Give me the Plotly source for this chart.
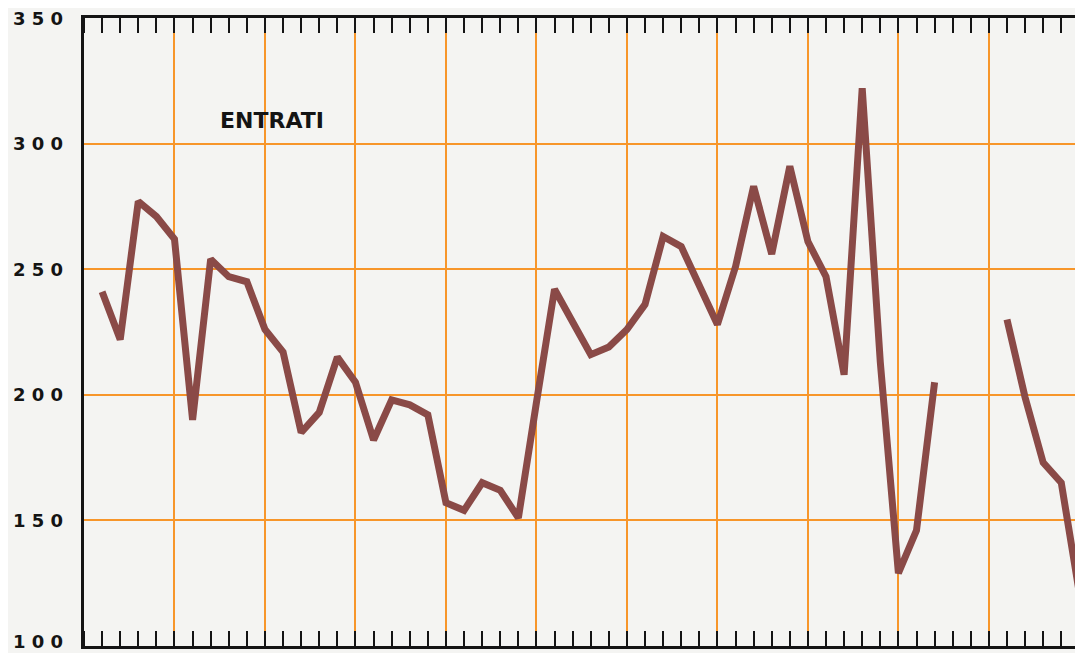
import plotly.graph_objects as go

# Periods (one per minor tick on the horizontal scale)
periods = list(range(1, 56))

# "ENTRATI" series (None = gap in the drawn line)
entrati = [
    241, 222, 277, 271, 262, 190, 254, 247, 245, 226,
    217, 185, 193, 215, 205, 182, 198, 196, 192, 157,
    154, 165, 162, 151, 197, 242, 229, 216, 219, 226,
    236, 263, 259, 243, 228, 251, 283, 256, 291, 261,
    247, 208, 322, 213, 129, 146, 205, None, None, None,
    230, 199, 173, 165, 121,
]

y_ticks = [100, 150, 200, 250, 300, 350]
y_ticktext = [" ".join(str(v)) for v in y_ticks]
x_major = [5, 10, 15, 20, 25, 30, 35, 40, 45, 50]

label = "ENTRATI"

PAPER = "#f4f4f2"
ORANGE = "#f7962a"
LINE = "#8a4a47"
INK = "#141414"
FONT = "DejaVu Sans, sans-serif"

fig = go.Figure()
fig.add_trace(go.Scatter(
    x=periods, y=entrati, mode="lines",
    line=dict(color=LINE, width=7),
    connectgaps=False, showlegend=False, hoverinfo="skip",
))

fig.add_annotation(
    x=10.4, y=309, xref="x", yref="y", text=label, showarrow=False,
    font=dict(family=FONT, size=22, color=INK, weight="bold"),
)

# y-axis value labels (as text next to the axis; the lowest one nudged up
# slightly so it is not cut by the bottom edge of the page)
for v, t in zip(y_ticks, y_ticktext):
    fig.add_annotation(
        x=0, y=v, xref="paper", yref="y", text=t, showarrow=False,
        xanchor="right", yanchor="middle", xshift=-19,
        yshift=5 if v == min(y_ticks) else 0,
        font=dict(family=FONT, size=18, color=INK, weight="bold"),
    )

# page body has an 8px default margin: figure is sized/offset to compensate
fig.update_layout(
    width=1075, height=645,
    margin=dict(l=76, r=0, t=10, b=7),
    paper_bgcolor=PAPER, plot_bgcolor=PAPER,
    font=dict(family=FONT, color=INK),
)

fig.update_xaxes(
    range=[0, 55.2], automargin=False,
    tickvals=x_major, ticks="", showticklabels=False,
    showgrid=True, gridcolor=ORANGE, gridwidth=2,
    zeroline=False,
    showline=True, linecolor=INK, linewidth=2.5, mirror="allticks",
    minor=dict(dtick=1, tick0=0, ticks="inside", ticklen=15,
               tickcolor=INK, tickwidth=2, showgrid=False),
)

fig.update_yaxes(
    range=[100, 350], automargin=False,
    tickvals=y_ticks, ticks="", showticklabels=False,
    showgrid=True, gridcolor=ORANGE, gridwidth=2,
    zeroline=False,
    showline=True, linecolor=INK, linewidth=2.5,
)

fig.write_html("out.html")
